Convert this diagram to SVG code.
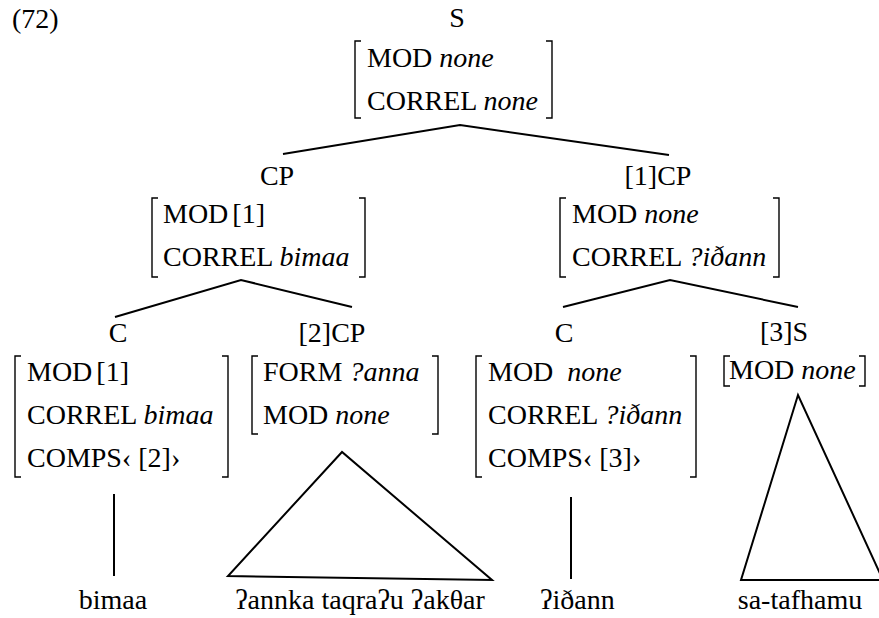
<svg xmlns="http://www.w3.org/2000/svg" width="879" height="618" viewBox="0 0 879 618">
<rect width="879" height="618" fill="#fff"/>
<g id="diagram" font-family="'Liberation Serif', serif" font-size="28" fill="#000">
<text x="12" y="28" font-family="'Liberation Serif', serif" font-size="28">(72)</text>

<g id="connectors" fill="none" stroke="#000" stroke-width="2">
<path d="M283,154 L460,125 L669,155"/>
<path d="M115,317 L241,280 L352,307"/>
<path d="M563,307 L670,280 L798,307"/>
<path d="M114,494 V576"/>
<path d="M571,497 V579"/>
<path d="M342,452 L228,576 L492,580 Z"/>
<path d="M798,395 L741,580 L883,580 Z"/>
</g>

<g id="node-S">
<text x="457" y="27" text-anchor="middle" font-family="'Liberation Serif', serif" font-size="28">S</text>
<path fill="none" stroke="#000" stroke-width="1.4" d="M361,41 H355 V118 H361 M546,41 H552 V118 H546"/>
<text x="367" y="67" font-family="'Liberation Serif', serif" font-size="28">MOD <tspan font-style="italic">none</tspan></text>
<text x="367" y="110" font-family="'Liberation Serif', serif" font-size="28">CORREL <tspan font-style="italic">none</tspan></text>
</g>

<g id="node-CP">
<text x="277" y="185" text-anchor="middle" font-family="'Liberation Serif', serif" font-size="28">CP</text>
<path fill="none" stroke="#000" stroke-width="1.4" d="M158,198 H152 V277 H158 M359,198 H365 V277 H359"/>
<text x="163" y="223" font-family="'Liberation Serif', serif" font-size="28">MOD<tspan dx="4">[1]</tspan></text>
<text x="163" y="266" font-family="'Liberation Serif', serif" font-size="28">CORREL <tspan font-style="italic">bimaa</tspan></text>
</g>

<g id="node-1CP">
<text x="658" y="185" text-anchor="middle" font-family="'Liberation Serif', serif" font-size="28">[1]CP</text>
<path fill="none" stroke="#000" stroke-width="1.4" d="M566,198 H560 V277 H566 M773,198 H779 V277 H773"/>
<text x="572" y="223" font-family="'Liberation Serif', serif" font-size="28">MOD <tspan font-style="italic">none</tspan></text>
<text x="572" y="266" font-family="'Liberation Serif', serif" font-size="28">CORREL <tspan font-style="italic">?i&#240;ann</tspan></text>
</g>

<g id="node-C1">
<text x="118" y="342" text-anchor="middle" font-family="'Liberation Serif', serif" font-size="28">C</text>
<path fill="none" stroke="#000" stroke-width="1.4" d="M21,356 H15 V477 H21 M222,356 H228 V477 H222"/>
<text x="27" y="381" font-family="'Liberation Serif', serif" font-size="28">MOD<tspan dx="4">[1]</tspan></text>
<text x="27" y="424" font-family="'Liberation Serif', serif" font-size="28">CORREL <tspan font-style="italic">bimaa</tspan></text>
<text x="27" y="467" font-family="'Liberation Serif', serif" font-size="28">COMPS&#8249; [2]&#8250;</text>
</g>

<g id="node-2CP">
<text x="332" y="342" text-anchor="middle" font-family="'Liberation Serif', serif" font-size="28">[2]CP</text>
<path fill="none" stroke="#000" stroke-width="1.4" d="M258,356 H252 V434 H258 M432,356 H438 V434 H432"/>
<text x="263" y="381" font-family="'Liberation Serif', serif" font-size="28">FORM <tspan font-style="italic">?anna</tspan></text>
<text x="263" y="424" font-family="'Liberation Serif', serif" font-size="28">MOD <tspan font-style="italic">none</tspan></text>
</g>

<g id="node-C2">
<text x="564" y="342" text-anchor="middle" font-family="'Liberation Serif', serif" font-size="28">C</text>
<path fill="none" stroke="#000" stroke-width="1.4" d="M482,356 H476 V477 H482 M690,356 H696 V477 H690"/>
<text x="488" y="381" font-family="'Liberation Serif', serif" font-size="28">MOD<tspan font-style="italic" dx="14">none</tspan></text>
<text x="488" y="424" font-family="'Liberation Serif', serif" font-size="28">CORREL <tspan font-style="italic">?i&#240;ann</tspan></text>
<text x="488" y="467" font-family="'Liberation Serif', serif" font-size="28">COMPS&#8249; [3]&#8250;</text>
</g>

<g id="node-3S">
<text x="784" y="341" text-anchor="middle" font-family="'Liberation Serif', serif" font-size="28">[3]S</text>
<path fill="none" stroke="#000" stroke-width="1.4" d="M730,356 H724 V386 H730 M859,356 H865 V386 H859"/>
<text x="729" y="379" font-family="'Liberation Serif', serif" font-size="28">MOD <tspan font-style="italic">none</tspan></text>
</g>

<g id="leaf-bimaa"><text x="113" y="609" text-anchor="middle" font-family="'Liberation Serif', serif" font-size="28">bimaa</text></g>
<g id="leaf-annka"><text x="360" y="609" text-anchor="middle" font-family="'Liberation Serif', serif" font-size="28">&#660;annka taqra&#660;u &#660;ak&#952;ar</text></g>
<g id="leaf-idann"><text x="540" y="609" font-family="'Liberation Serif', serif" font-size="28">&#660;i&#240;ann</text></g>
<g id="leaf-satafhamu"><text x="800" y="609" text-anchor="middle" font-family="'Liberation Serif', serif" font-size="28">sa-tafhamu</text></g>
</g>
</svg>
